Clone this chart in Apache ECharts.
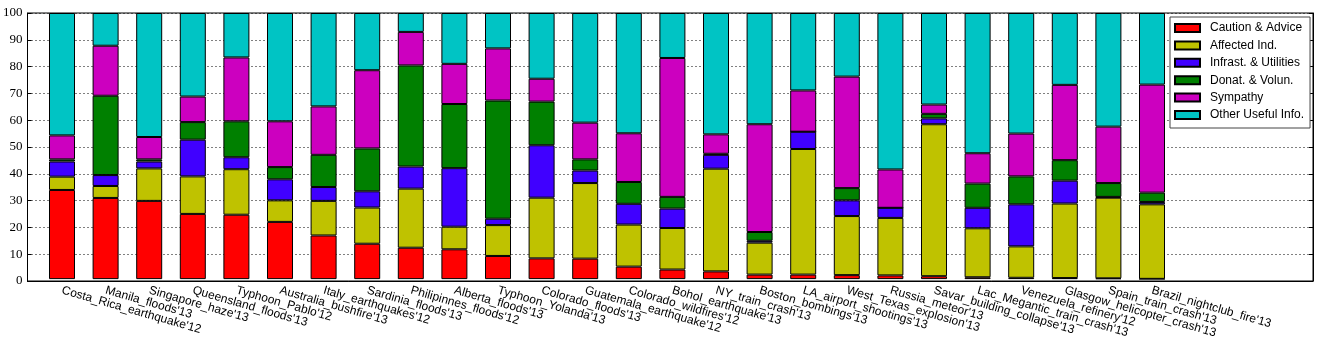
<!DOCTYPE html>
<html>
<head>
<meta charset="utf-8">
<script src="https://cdn.jsdelivr.net/npm/echarts@6/dist/echarts.min.js"></script>
<style>
html,body{margin:0;padding:0;background:#fff;}
#chart{width:1319px;height:340px;}
</style>
</head>
<body>
<div id="chart"></div>
<script>
const categories = [
  "Costa_Rica_earthquake'12", "Manila_floods'13", "Singapore_haze'13", "Queensland_floods'13",
  "Typhoon_Pablo'12", "Australia_bushfire'13", "Italy_earthquakes'12", "Sardinia_floods'13",
  "Philipinnes_floods'12", "Alberta_floods'13", "Typhoon_Yolanda'13", "Colorado_floods'13",
  "Guatemala_earthquake'12", "Colorado_wildfires'12", "Bohol_earthquake'13", "NY_train_crash'13",
  "Boston_bombings'13", "LA_airport_shootings'13", "West_Texas_explosion'13", "Russia_meteor'13",
  "Savar_building_collapse'13", "Lac_Megantic_train_crash'13", "Venezuela_refinery'12",
  "Glasgow_helicopter_crash'13", "Spain_train_crash'13", "Brazil_nightclub_fire'13"
];
const seriesNames = ["Caution & Advice", "Affected Ind.", "Infrast. & Utilities", "Donat. & Volun.", "Sympathy", "Other Useful Info."];
const caution   = [33.5, 30.5, 29.4, 24.5, 24.2, 21.5, 16.4, 13.3, 11.8, 11.2, 8.7, 7.8, 7.7, 4.7, 3.6, 2.9, 1.7, 1.7, 1.5, 1.4, 1.1, 0.7, 0.5, 0.4, 0.3, 0.1];
const affected  = [5.0, 4.5, 12.2, 14.1, 17.1, 8.1, 13.0, 13.6, 22.2, 8.5, 11.6, 22.8, 28.4, 15.8, 15.6, 38.6, 12.0, 47.2, 22.2, 21.6, 57.1, 18.4, 11.8, 28.0, 30.3, 28.0];
const infrast   = [5.7, 4.1, 2.6, 13.8, 4.5, 7.9, 5.2, 6.1, 8.3, 22.0, 2.4, 19.7, 4.7, 7.8, 7.3, 5.2, 0.7, 6.5, 5.9, 3.8, 2.2, 7.7, 15.8, 8.6, 0.3, 0.9];
const donat     = [0.8, 29.8, 0.8, 6.6, 13.5, 4.6, 12.1, 16.1, 38.0, 24.1, 44.4, 16.4, 4.2, 8.2, 4.4, 0.4, 3.3, 0.0, 4.6, 0.0, 1.7, 9.1, 10.5, 7.7, 5.2, 3.5];
const sympathy  = [9.0, 18.8, 8.4, 9.6, 24.0, 17.2, 18.2, 29.4, 12.6, 15.1, 19.6, 8.6, 13.8, 18.3, 52.2, 7.3, 40.5, 15.5, 41.9, 14.4, 3.5, 11.4, 16.1, 28.3, 21.2, 40.6];
const other     = [46.0, 12.3, 46.6, 31.4, 16.7, 40.7, 35.1, 21.5, 7.1, 19.1, 13.3, 24.7, 41.2, 45.2, 16.9, 45.6, 41.8, 29.1, 23.9, 58.8, 34.4, 52.7, 45.3, 27.0, 42.7, 26.9];
const yTicks = [0, 10, 20, 30, 40, 50, 60, 70, 80, 90, 100];

const colors = ['#ff0000', '#bfc200', '#4000ff', '#008000', '#cc00bf', '#00c4c4'];
const allData = [caution, affected, infrast, donat, sympathy, other];

const chart = echarts.init(document.getElementById('chart'), null, {renderer: 'canvas'});
const series = allData.map((arr, k) => ({
  name: seriesNames[k],
  type: 'bar',
  stack: 'total',
  xAxisIndex: 1,
  yAxisIndex: 2,
  barWidth: 26,
  data: arr,
  itemStyle: {color: colors[k], borderColor: '#000', borderWidth: 1},
  emphasis: {disabled: true},
  z: 3
}));

const pitch = 43.6;
const barsLeft = 62 - pitch / 2;

chart.setOption({
  animation: false,
  grid: [
    {left: 27, right: 6, top: 13, bottom: 59, show: true, borderColor: '#000', borderWidth: 1, backgroundColor: 'transparent'},
    {left: barsLeft, width: pitch * categories.length, top: 13, bottom: 59}
  ],
  legend: {
    orient: 'vertical', left: 1170, top: 17,
    padding: [4, 6, 6, 4],
    itemWidth: 25, itemHeight: 8, itemGap: 3.4,
    backgroundColor: '#fff', borderColor: '#444', borderWidth: 1, borderRadius: 0,
    textStyle: {fontFamily: 'Liberation Sans', fontSize: 12, color: '#000', lineHeight: 14, padding: [0, 0, 0, 5]},
    icon: 'rect',
    data: seriesNames,
    z: 10
  },
  xAxis: [{
    gridIndex: 0, type: 'value', min: 0, max: 1,
    axisLine: {show: true, onZero: false, lineStyle: {color: '#000', width: 1}},
    axisTick: {show: false}, axisLabel: {show: false}, splitLine: {show: false}
  }, {
    gridIndex: 1, type: 'category', data: categories,
    axisLine: {show: false}, axisTick: {show: false}, splitLine: {show: false},
    axisLabel: {
      interval: 0, rotate: -16, margin: 11,
      fontFamily: 'Liberation Sans', fontSize: 12, color: '#000'
    }
  }],
  yAxis: [{
    gridIndex: 0, type: 'value', min: 0, max: 100, interval: 10,
    axisLine: {show: true, onZero: false, lineStyle: {color: '#000'}},
    axisTick: {show: true, inside: true, length: 4, lineStyle: {color: '#000'}},
    axisLabel: {fontFamily: 'Liberation Serif', fontSize: 13, color: '#000', margin: 5,
      formatter: function (v) { return yTicks.indexOf(v) >= 0 ? String(v) : ''; }},
    splitLine: {show: true, lineStyle: {color: '#000', type: [1, 3], width: 1}}
  }, {
    gridIndex: 0, type: 'value', min: 0, max: 100, interval: 10, position: 'right',
    axisLine: {show: true, onZero: false, lineStyle: {color: '#000'}},
    axisTick: {show: true, inside: true, length: 4, lineStyle: {color: '#000'}},
    axisLabel: {show: false}, splitLine: {show: false}
  }, {
    gridIndex: 1, type: 'value', min: 0, max: 100, interval: 10, show: false,
    splitLine: {show: false}
  }],
  series: series
});
</script>
</body>
</html>
